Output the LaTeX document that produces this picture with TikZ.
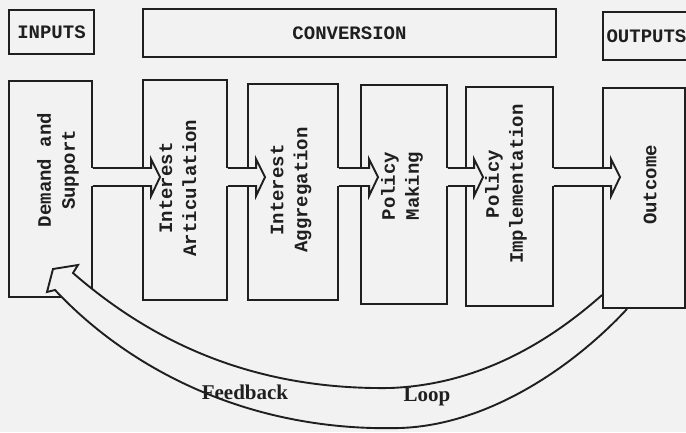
\documentclass[tikz,border=0pt]{standalone}
\usepackage{fontspec}
\newfontfamily\typewfont{Liberation Mono}
\newfontfamily\capfont{Liberation Serif}
\definecolor{paper}{gray}{0.95}
\definecolor{ink}{gray}{0.12}
\tikzset{
  outline/.style={draw=ink, line width=1.9pt, line join=miter},
  stage/.style={outline, rectangle, inner sep=0pt},
  header/.style={stage, text=ink, font=\typewfont\bfseries\fontsize{19}{22}\selectfont},
  vlabel/.style={rotate=90, align=center, text=ink, font=\typewfont\bfseries\fontsize{19}{24}\selectfont},
  looplabel/.style={text=ink, font=\capfont\bfseries\fontsize{21}{24}\selectfont}
}
\begin{document}
\begin{tikzpicture}[x=1pt, y=-1pt]
  \useasboundingbox (0,0) rectangle (686,432);
  \fill[paper] (0,0) rectangle (686,432);
  \clip (0,0) rectangle (686,432);

  % header boxes
  \node[header, minimum width=85pt, minimum height=44pt] (inputs) at (51.5,32) {INPUTS};
  \node[header, minimum width=413pt, minimum height=48pt] (conversion) at (349.5,33) {CONVERSION};
  \node[header, minimum width=87pt, minimum height=48pt] (outputs) at (646.5,36) {OUTPUTS};

  % stage boxes
  \node[stage, minimum width=83pt, minimum height=216pt] (demand) at (50.5,189) {};
  \node[stage, minimum width=84pt, minimum height=220pt] (artic) at (185,190) {};
  \node[stage, minimum width=90pt, minimum height=216pt] (aggr) at (293,192) {};
  \node[stage, minimum width=86pt, minimum height=219pt] (making) at (404,194.5) {};
  \node[stage, minimum width=87pt, minimum height=219pt] (implem) at (509.5,196.5) {};
  \node[stage, minimum width=82pt, minimum height=220pt] (outcome) at (644,198) {};

  % block arrows between the stages
  \foreach \a/\b in {demand/artic, artic/aggr, aggr/making, making/implem, implem/outcome} {
    \coordinate (ts) at ([xshift=-2pt]\a.east);
    \coordinate (hb) at ([xshift=9pt]\b.west);
    \coordinate (ht) at ([xshift=18pt]\b.west);
    \fill[paper] (ts |- 0,168) rectangle (hb |- 0,186);
    \draw[outline] (\a.east |- 0,168) -- (hb |- 0,168) -- (hb |- 0,159) -- (ht |- 0,177)
      -- (hb |- 0,196) -- (hb |- 0,186) -- (\a.east |- 0,186);
  }

  % feedback loop
  \coordinate (fbin) at (outcome.west |- 0,295);
  \coordinate (fbout) at ([xshift=25pt]outcome.south west);
  \fill[paper] (fbin) .. controls (540,350) and (470,385) .. (390,388)
    .. controls (250,390) and (150,340) .. (73,273) -- (78,265) -- (53,269) -- (47,292) -- (55,290)
    .. controls (130,370) and (250,432) .. (400,428) .. controls (490,425) and (575,365) .. (fbout)
    -- ([yshift=-2pt]fbout) -- ([xshift=-2pt,yshift=-2pt]outcome.south west) -- ([xshift=-2pt]fbin) -- cycle;
  \draw[outline] (fbin) .. controls (540,350) and (470,385) .. (390,388)
    .. controls (250,390) and (150,340) .. (73,273) -- (78,265) -- (53,269) -- (47,292) -- (55,290)
    .. controls (130,370) and (250,432) .. (400,428) .. controls (490,425) and (575,365) .. (fbout);

  % texts
  \node[vlabel] (demandtext) at (58,170) {Demand and\\Support};
  \node[vlabel] (artictext) at (178,188) {Interest\\Articulation};
  \node[vlabel] (aggrtext) at (291,190) {Interest\\Aggregation};
  \node[vlabel] (makingtext) at (402,186) {Policy\\Making};
  \node[vlabel] (implemtext) at (506,184) {Policy\\Implementation};
  \node[vlabel] (outcometext) at (650,185) {Outcome};
  \node[looplabel] (feedback) at (245,392) {Feedback};
  \node[looplabel] (loop) at (427,397) {Loop};
\end{tikzpicture}
\end{document}
